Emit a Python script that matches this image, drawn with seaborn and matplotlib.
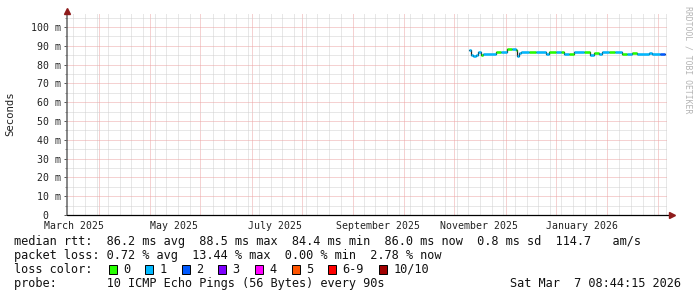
import numpy as np
import pandas as pd
import matplotlib
matplotlib.use("Agg")
import matplotlib.pyplot as plt
from matplotlib.patches import Rectangle
import seaborn as sns

# ---------------- data ----------------
seg_start = ["2025-10-10", "2025-10-11", "2025-10-12", "2025-10-14", "2025-10-15",
             "2025-10-17", "2025-10-18", "2025-10-26", "2025-10-29", "2025-11-02",
             "2025-11-05", "2025-11-07", "2025-11-08", "2025-11-09", "2025-11-10",
             "2025-11-15", "2025-11-19", "2025-11-25", "2025-11-27", "2025-12-01",
             "2025-12-04", "2025-12-06", "2025-12-09", "2025-12-12", "2025-12-18",
             "2025-12-22", "2025-12-24", "2025-12-27", "2025-12-29", "2026-01-02",
             "2026-01-06", "2026-01-10", "2026-01-13", "2026-01-16", "2026-01-19",
             "2026-01-26", "2026-01-28", "2026-02-02"]
seg_end_last = "2026-02-05"
median_ms = [87.7, 85.3, 84.8, 85.0, 86.5,
             84.9, 85.8, 86.9, 87.0, 88.3,
             88.1, 87.7, 84.5, 86.2, 86.9,
             87.0, 86.9, 85.9, 87.0, 86.8,
             87.0, 85.8, 85.9, 87.0, 87.0,
             84.9, 86.2, 85.5, 86.9, 87.0,
             86.9, 85.9, 85.9, 86.0, 85.9,
             86.2, 85.9, 85.9]
loss_idx = [1, 1, 1, 1, 1,
            0, 1, 0, 1, 0,
            1, 0, 1, 1, 1,
            0, 1, 1, 0, 1,
            0, 1, 0, 1, 0,
            1, 0, 1, 1, 0,
            1, 0, 1, 0, 1,
            1, 1, 2]

loss_labels = ["0", "1", "2", "3", "4", "5", "6-9", "10/10"]
loss_colors = ["#26ff00", "#00b8ff", "#0059ff", "#7e00ff",
               "#ff00ff", "#ff5500", "#ff0000", "#a10000"]

y_ticks = [0, 10, 20, 30, 40, 50, 60, 70, 80, 90, 100]
y_tick_labels = ["0  ", "10 m", "20 m", "30 m", "40 m", "50 m",
                 "60 m", "70 m", "80 m", "90 m", "100 m"]
x_label_dates = ["2025-02-14", "2025-04-15", "2025-06-15",
                 "2025-08-16", "2025-10-16", "2025-12-17"]
x_labels = ["March 2025", "May 2025", "July 2025",
            "September 2025", "November 2025", "January 2026"]
x_start, x_end = "2025-02-09 17:00", "2026-02-06 03:00"

stats_rtt = "median rtt:  86.2 ms avg  88.5 ms max  84.4 ms min  86.0 ms now  0.8 ms sd  114.7   am/s"
stats_loss = "packet loss: 0.72 % avg  13.44 % max  0.00 % min  2.78 % now"
probe_text = "probe:       10 ICMP Echo Pings (56 Bytes) every 90s"
stamp_text = "Sat Mar  7 08:44:15 2026"

# ---------------- figure ----------------
W, H = 697, 297
sns.set_theme(style="white")
plt.rcParams["font.family"] = ["DejaVu Sans Mono", "DejaVu Sans"]
fig = plt.figure(figsize=(W / 100, H / 100), dpi=100)
fig.patch.set_facecolor("white")

def fx(x):
    return x / W

def fy(y):
    return 1 - y / H

L, R, T, B = 67, 667, 13, 215
ax = fig.add_axes([fx(L), fy(B), (R - L) / W, (B - T) / H])
ax.set_facecolor("white")

t0 = pd.to_datetime(seg_start)
t1 = list(t0[1:]) + [pd.Timestamp(seg_end_last)]
rows = []
for i, (a, b, v, c) in enumerate(zip(t0, t1, median_ms, loss_idx)):
    rows.append(dict(t=a, ms=v, seg=i, loss=loss_labels[c]))
    rows.append(dict(t=b, ms=v, seg=i, loss=loss_labels[c]))
df = pd.DataFrame(rows)

# dark "smoke" connectors (step line)
steps = pd.DataFrame({"t": list(t0) + [pd.Timestamp(seg_end_last)],
                      "ms": median_ms + [median_ms[-1]]})
sns.lineplot(data=steps, x="t", y="ms", ax=ax, color="#222222", lw=0.9,
             drawstyle="steps-post", estimator=None, zorder=3)
# loss-coloured median segments
sns.lineplot(data=df, x="t", y="ms", units="seg", estimator=None, hue="loss",
             hue_order=loss_labels, palette=dict(zip(loss_labels, loss_colors)),
             legend=False, lw=1.8, ax=ax, zorder=4, solid_capstyle="butt")

ax.set_xlim(pd.Timestamp(x_start), pd.Timestamp(x_end))
ax.set_ylim(0, 107.5)
ax.set_xlabel("")
ax.set_ylabel("")

# grid
month_grid = pd.date_range("2025-03-01", "2026-02-01", freq="MS")
week_grid = pd.date_range("2025-02-13 12:00", x_end, freq="7D")
week_grid = [w for w in week_grid
             if np.min(np.abs((month_grid - w) / pd.Timedelta(days=1))) > 1.2]
ax.set_xticks(month_grid)
ax.set_xticks(week_grid, minor=True)
ax.set_xticklabels([])
ax.set_yticks(y_ticks, labels=y_tick_labels)
ax.set_yticks(np.arange(5, 107, 10), minor=True)
ax.set_axisbelow(True)
ax.grid(which="minor", color="#d0d0d0", lw=0.72, ls=(0, (1, 1)))
ax.grid(which="major", color="#eca4a4", lw=0.72, ls=(0, (1, 1)))
for axis in (ax.xaxis, ax.yaxis):
    for tk in axis.get_major_ticks() + axis.get_minor_ticks():
        tk.gridline.set_snap(True)
ax.tick_params(axis="x", which="both", length=0)
ax.tick_params(axis="y", which="major", length=2.2, width=0.7, color="#555555",
               pad=2.2, labelsize=7.1, labelcolor="#222222", left=True)
ax.tick_params(axis="y", which="minor", length=1.2, width=0.7, color="#888888", left=True)
for lab in ax.get_yticklabels():
    lab.set_family("DejaVu Sans Mono")

for s in ax.spines.values():
    s.set_visible(False)
ax.plot([0, 0], [0, 1.0], transform=ax.transAxes, color="#666666", lw=1.1,
        clip_on=False, zorder=6)
ax.plot([0, 1.005], [0, 0], transform=ax.transAxes, color="#000000", lw=0.9,
        clip_on=False, zorder=6)
ax.plot([0], [1 + 2.5 / (B - T)], marker="^", ms=4.2, color="#8e1b1b",
        transform=ax.transAxes, clip_on=False, zorder=7)
ax.plot([1 + 4.7 / (R - L)], [0], marker=">", ms=4.2, color="#8e1b1b",
        transform=ax.transAxes, clip_on=False, zorder=7)

# x labels
for d, lab in zip(x_label_dates, x_labels):
    ax.text(pd.Timestamp(d), -0.03, lab, transform=ax.get_xaxis_transform(),
            ha="center", va="top", fontsize=7.1, color="#222222",
            family="DejaVu Sans Mono")

# y axis title
fig.text(fx(10.5), fy(114), "Seconds", rotation=90, ha="center", va="center",
         fontsize=7.7, color="#222222", family="DejaVu Sans Mono")
# watermark
fig.text(fx(688), fy(60), "RRDTOOL / TOBI OETIKER", rotation=270, ha="center",
         va="center", fontsize=5.9, color="#b4b4b4", family="DejaVu Sans Mono")

# legend / stats
fs = 8.55
cw = 7.142
x0 = 14.5
fig.text(fx(x0), fy(245), stats_rtt, ha="left", va="baseline", fontsize=fs, color="#111111")
fig.text(fx(x0), fy(259), stats_loss, ha="left", va="baseline", fontsize=fs, color="#111111")
fig.text(fx(x0), fy(273), "loss color:", ha="left", va="baseline", fontsize=fs, color="#111111")
bx = 108.5
for lab, col in zip(loss_labels, loss_colors):
    fig.patches.append(Rectangle((fx(bx), fy(273.5)), 8 / W, 8.3 / H, transform=fig.transFigure,
                                 facecolor=col, edgecolor="#000000", lw=0.7))
    lx = bx + 14.3
    fig.text(fx(lx), fy(273), lab, ha="left", va="baseline", fontsize=fs, color="#111111")
    bx = lx + len(lab) * cw + 15.2
fig.text(fx(x0), fy(287), probe_text, ha="left", va="baseline", fontsize=fs, color="#111111")
fig.text(fx(681), fy(287), stamp_text, ha="right", va="baseline", fontsize=fs, color="#111111")

fig.savefig("out.png", dpi=100, facecolor="white")
